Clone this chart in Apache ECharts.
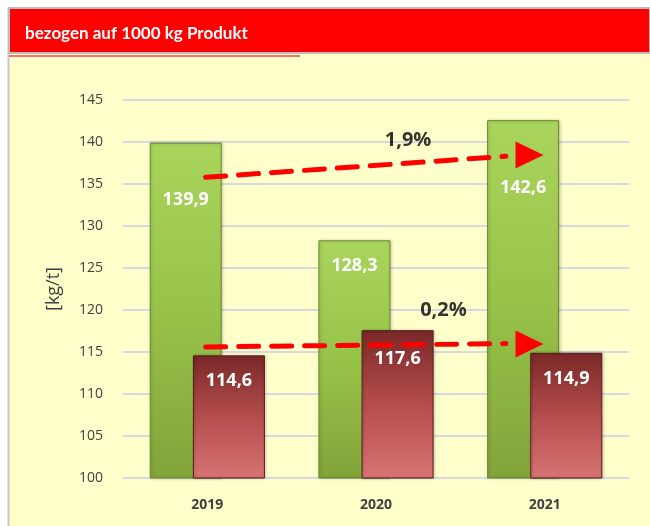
<!DOCTYPE html>
<html>
<head>
<meta charset="utf-8">
<script src="https://cdn.jsdelivr.net/npm/echarts@6/dist/echarts.min.js"></script>
<style>
  html, body { margin: 0; padding: 0; background: #fff; }
  #chart { width: 650px; height: 526px; }
</style>
</head>
<body>
<div id="chart"></div>
<script>
// data
const years = ['2019', '2020', '2021'];
const greenValues = [139.9, 128.3, 142.6];
const redValues = [114.6, 117.6, 114.9];

// trend arrows (x in category units on a hidden value axis, 0..3)
const topTrendX = [0.49, 2.27];
const topTrendY = [135.8, 138.3];
const bottomTrendX = [0.49, 2.27];
const bottomTrendY = [115.6, 116.0];
const arrowHeadX = [2.41, 2.41];
const arrowHeadY = [138.45, 115.95];
const pctLabels = ['1,9%', '0,2%'];
const pctX = [1.69, 1.9];
const pctY = [140.2, 120.0];

// label distance below bar top (px), styling only
const greenLabelDy = [57, 26, 68];
const redLabelDy = [26, 29, 26];

const fmt = v => v.toFixed(1).replace('.', ',');

const chart = echarts.init(document.getElementById('chart'));

const greenFill = new echarts.graphic.LinearGradient(0, 0, 0, 1, [
  { offset: 0, color: '#aad55c' },
  { offset: 0.5, color: '#98c34a' },
  { offset: 1, color: '#82a43a' }
]);
const redFill = new echarts.graphic.LinearGradient(0, 0, 0, 1, [
  { offset: 0, color: '#7a2828' },
  { offset: 0.5, color: '#b54d4d' },
  { offset: 1, color: '#d87474' }
]);

const dashed = {
  color: '#ff0000',
  width: 5,
  type: [20, 13],
  cap: 'round'
};

const option = {
  backgroundColor: '#ffffff',
  animation: false,
  graphic: [
    { type: 'rect', shape: { x: 8, y: 53, width: 642, height: 473 }, style: { fill: '#ffffcc' }, z: -10 },
    { type: 'line', shape: { x1: 8.5, y1: 8, x2: 8.5, y2: 526 }, style: { stroke: '#c8c8c8', lineWidth: 2 }, z: -9 },
    { type: 'rect', shape: { x: 9, y: 8, width: 641, height: 45 }, style: { fill: '#ff0000', stroke: '#bdbdbd', lineWidth: 2 }, z: -9 },
    { type: 'line', shape: { x1: 9, y1: 56, x2: 300, y2: 56 }, style: { stroke: '#f04545', lineWidth: 1.5 }, z: -9 }
  ],
  title: {
    text: 'bezogen auf 1000 kg Produkt',
    left: 20,
    top: 20,
    textStyle: {
      color: '#ffffff',
      fontFamily: 'Lato',
      fontWeight: 'bold',
      fontSize: 17
    }
  },
  grid: { left: 123, right: 21, top: 100, bottom: 48 },
  xAxis: [
    {
      type: 'category',
      data: years,
      axisLine: { show: false },
      axisTick: { show: false },
      axisLabel: {
        margin: 20,
        color: '#404040',
        fontFamily: 'Open Sans',
        fontWeight: 'bold',
        fontSize: 14
      }
    },
    {
      type: 'value',
      min: 0,
      max: 3,
      show: false
    }
  ],
  yAxis: {
    type: 'value',
    min: 100,
    max: 145,
    interval: 5,
    name: '[kg/t]',
    nameLocation: 'middle',
    nameRotate: 90,
    nameGap: 60,
    nameTextStyle: { color: '#404040', fontFamily: 'Open Sans', fontSize: 18 },
    axisLine: { show: false },
    axisTick: { show: false },
    axisLabel: { margin: 20, color: '#404040', fontFamily: 'Open Sans', fontSize: 14 },
    splitLine: { lineStyle: { color: '#d8d8e0', width: 2 } }
  },
  series: [
    {
      type: 'bar',
      barWidth: 72,
      barGap: '-40%',
      data: greenValues.map((v, i) => ({
        value: v,
        label: { position: ['50%', greenLabelDy[i]] }
      })),
      itemStyle: {
        color: greenFill,
        borderColor: '#6d8c2c',
        borderWidth: 1,
        shadowColor: 'rgba(0,0,0,0.25)',
        shadowBlur: 3,
        shadowOffsetX: 1
      },
      label: {
        show: true,
        align: 'center',
        verticalAlign: 'middle',
        formatter: p => fmt(p.value),
        color: '#ffffff',
        fontFamily: 'Open Sans',
        fontWeight: 'bold',
        fontSize: 18
      }
    },
    {
      type: 'bar',
      barWidth: 72,
      data: redValues.map((v, i) => ({
        value: v,
        label: { position: ['50%', redLabelDy[i]] }
      })),
      itemStyle: {
        color: redFill,
        borderColor: '#5a1d1d',
        borderWidth: 1,
        shadowColor: 'rgba(0,0,0,0.25)',
        shadowBlur: 3,
        shadowOffsetX: 1
      },
      label: {
        show: true,
        align: 'center',
        verticalAlign: 'middle',
        formatter: p => fmt(p.value),
        color: '#ffffff',
        fontFamily: 'Open Sans',
        fontWeight: 'bold',
        fontSize: 18
      }
    },
    {
      type: 'line',
      xAxisIndex: 1,
      data: topTrendX.map((x, i) => [x, topTrendY[i]]),
      showSymbol: false,
      lineStyle: dashed,
      z: 5
    },
    {
      type: 'line',
      xAxisIndex: 1,
      data: bottomTrendX.map((x, i) => [x, bottomTrendY[i]]),
      showSymbol: false,
      lineStyle: dashed,
      z: 5
    },
    {
      type: 'scatter',
      xAxisIndex: 1,
      data: arrowHeadX.map((x, i) => [x, arrowHeadY[i]]),
      symbol: 'triangle',
      symbolSize: [27, 28],
      symbolRotate: -90,
      itemStyle: { color: '#ff0000', opacity: 1 },
      z: 6
    },
    {
      type: 'scatter',
      xAxisIndex: 1,
      data: pctX.map((x, i) => [x, pctY[i], pctLabels[i]]),
      symbolSize: 0,
      label: {
        show: true,
        position: 'inside',
        formatter: p => p.value[2],
        color: '#000000',
        fontFamily: 'Open Sans',
        fontWeight: 'bold',
        fontSize: 20
      },
      z: 6
    }
  ]
};

chart.setOption(option);
</script>
</body>
</html>
